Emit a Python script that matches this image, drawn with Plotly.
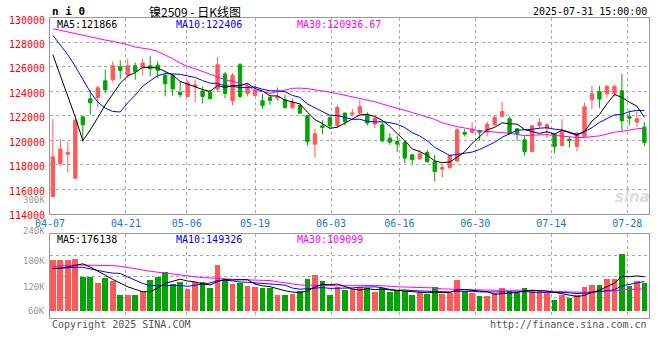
import plotly.graph_objects as go
import pandas as pd

# ---------------- data ----------------
dates_label = ["04-07", "04-21", "05-06", "05-19", "06-03", "06-16", "06-30", "07-14", "07-28"]
dates_label_idx = [0, 10, 18, 27, 37, 46, 56, 66, 76]

open_ = [115397, 118099, 118863, 116898, 121919, 123393, 123502, 124867, 124949, 126013,
         125358, 126095, 125958, 126095, 126149, 125303, 125303, 123911, 123584, 124375,
         124021, 123911, 124184, 125412, 123229, 126177, 123829, 123666, 123229, 123502,
         123448, 123311, 122684, 122847, 122001, 119682, 121183, 121865, 121210, 122219,
         122138, 122219, 122028, 121319, 121264, 120173, 119900, 119818, 118808, 118481,
         118999, 118235, 117635, 117771, 118300, 120637, 120664, 120773, 120664, 121264,
         121947, 121756, 120937, 120036, 119081, 121210, 120991, 120500, 119572, 120091,
         119490, 120309, 123311, 123966, 123802, 123802, 124048, 121919, 121483, 121073]
high = [121728, 120118, 119900, 121700, 121950, 124130, 124457, 125767, 126449, 126531,
        126668, 126367, 126668, 126913, 126449, 125631, 125494, 124812, 124894, 124949,
        124403, 124130, 126804, 125576, 125494, 126313, 124650, 124375, 123802, 123720,
        124321, 123720, 123448, 123011, 122050, 120937, 121646, 121947, 122902, 122274,
        122574, 123311, 122301, 121947, 121483, 120582, 120364, 119954, 118850, 119217,
        119217, 118808, 117990, 118808, 120991, 120910, 121455, 120855, 121537, 122083,
        123120, 121947, 120991, 120309, 121264, 121810, 121401, 120582, 121728, 120309,
        120719, 123093, 124457, 124457, 124539, 124539, 125413, 122438, 122356, 121483]
low = [115300, 117853, 117362, 116843, 119900, 122083, 122684, 123829, 124730, 125003,
       125085, 124949, 125303, 125221, 125085, 123584, 123639, 123502, 123584, 123093,
       123011, 123311, 123911, 123447, 122847, 123447, 123600, 123584, 122574, 122902,
       123229, 122574, 122547, 122138, 119572, 118590, 120500, 120991, 120991, 121210,
       121947, 121947, 121210, 120991, 119818, 119627, 119027, 118126, 118044, 118399,
       118126, 116625, 116953, 117662, 118200, 120309, 120500, 119954, 120309, 121128,
       121865, 120446, 119954, 118754, 119000, 120991, 120173, 118945, 119572, 119409,
       119081, 120309, 122547, 122629, 123502, 123584, 120773, 121210, 121128, 119490]
close = [118644, 119272, 118999, 121646, 121264, 123066, 124293, 124130, 126095, 125713,
         126095, 125631, 126313, 125849, 125713, 124621, 124184, 123720, 124703, 124539,
         123584, 123420, 126177, 123829, 125303, 123584, 124403, 124048, 122847, 123257,
         123584, 122684, 123120, 122219, 119900, 120527, 121046, 121183, 122684, 121537,
         122219, 122738, 121401, 121810, 119954, 119845, 119682, 118535, 118426, 118890,
         118262, 117444, 117771, 118727, 120855, 120500, 120910, 120664, 121319, 121865,
         122356, 120555, 120500, 119081, 121183, 121455, 121264, 119490, 120719, 119982,
         120582, 122738, 123802, 123366, 124403, 124403, 121592, 121810, 121756, 119818]
volume = [256700, 256700, 256700, 261800, 170000, 173400, 142800, 164900, 153000, 78200,
          78200, 78200, 102000, 154700, 170000, 198900, 137700, 147900, 108800, 147900,
          144500, 115600, 231200, 161500, 137700, 141100, 127500, 119000, 115600, 117300,
          81600, 81600, 86700, 102000, 159800, 180200, 149600, 78200, 119000, 103700,
          112200, 119000, 115600, 93500, 115600, 93500, 102000, 98600, 81600, 95200,
          86700, 119000, 85000, 90100, 154700, 98600, 90100, 73100, 73100, 90100,
          113900, 102000, 90100, 113900, 107100, 107100, 90100, 56100, 78200, 62900,
          81600, 119000, 132600, 132600, 163200, 163200, 290700, 124100, 153000, 141100]

# moving-average values before enough history is on the chart
price_ma5_head = [126995, 125292, 123597, 121894]
price_ma10_head = [128578, 127814, 126995, 126040, 125030, 123939, 123120, 122629, 122356]
price_ma30_head = [129124, 128987, 128851, 128714, 128551, 128442, 128305, 128196, 128087, 127978,
                   127814, 127623, 127541, 127432, 127268, 126995, 126668, 126313, 126040, 125849,
                   125631, 125358, 125140, 124949, 124812, 124676, 124484, 124048, 123993]
vol_ma5_head = [215900, 217600, 224400, 232900]
vol_ma10_head = [215900, 219300, 221000, 222700, 222700, 214200, 206000, 199000, 193000]
vol_ma30_head = [224400, 229500, 232900, 234600, 234600, 234600, 232900, 232900, 231200, 227800,
                 222700, 217600, 209100, 202300, 197200, 193800, 190400, 183600, 176800, 171700,
                 170000, 168300, 164900, 163200, 161500, 159800, 158100, 156500, 155500]

ma_labels_price = ["MA5:121866", "MA10:122406", "MA30:120936.67"]
ma_labels_vol = ["MA5:176138", "MA10:149326", "MA30:109099"]
price_ticks = [114000, 116000, 118000, 120000, 122000, 124000, 126000, 128000, 130000]
vol_tick_labels = ["300K", "240K", "180K", "120K", "60K"]


def ma(series, n, head):
    s = pd.Series(series, dtype=float).rolling(n).mean()
    s.iloc[:len(head)] = head
    return s.round(1).tolist()


p_ma5, p_ma10, p_ma30 = ma(close, 5, price_ma5_head), ma(close, 10, price_ma10_head), ma(close, 30, price_ma30_head)
v_ma5, v_ma10, v_ma30 = ma(volume, 5, vol_ma5_head), ma(volume, 10, vol_ma10_head), ma(volume, 30, vol_ma30_head)

# ---------------- style / geometry ----------------
RED = "#FF5959"
GREEN = "#00A600"
BLUE = "#0000FF"
MAG = "#FF00FF"
GRID = "#A8A8A8"
BORDER = "#9A9A9A"
MONO = "DejaVu Sans Mono"
CJK = "Noto Sans CJK SC"

W, H = 660, 360
PL, PR, PT, PB = 50, 649, 18.3, 318       # plot area in window pixels
n = len(close)
bar_px = (PR - PL) / n                   # px per trading day
x0 = -2.85 / bar_px                      # left border in data units
x1 = x0 + (PR - PL) / bar_px
grid_step = (600 / (n - 1)) / bar_px     # date grid spacing used by the source chart
grid_x = [i * grid_step + x0 for i in dates_label_idx]

price_bottom_px, vol_top_px, vol_base_px = 213.7, 234.3, 311
plot_h = PB - PT
price_domain = [(PB - price_bottom_px) / plot_h, 1]
vol_domain = [0, (PB - vol_top_px) / plot_h]
vol_per_px = 5100
vol_range = [-(PB - vol_base_px) * vol_per_px, (vol_base_px - vol_top_px) * vol_per_px]
vol_grid = [vol_range[0] + (vol_range[1] - vol_range[0]) * k / 4 for k in range(5)]

x = list(range(n))
vcolors = [RED if c >= o else GREEN for o, c in zip(open_, close)]

fig = go.Figure()
fig.add_trace(go.Candlestick(
    x=x, open=open_, high=high, low=low, close=close,
    increasing=dict(line=dict(color=RED, width=1), fillcolor=RED),
    decreasing=dict(line=dict(color=GREEN, width=1), fillcolor=GREEN),
    whiskerwidth=0, xaxis="x", yaxis="y", hoverinfo="skip", showlegend=False))
for ys, col in [(p_ma30, MAG), (p_ma10, BLUE), (p_ma5, "#000000")]:
    fig.add_trace(go.Scatter(x=x, y=ys, mode="lines", line=dict(color=col, width=1),
                             xaxis="x", yaxis="y", hoverinfo="skip", showlegend=False))

fig.add_trace(go.Bar(x=x, y=volume, width=0.76, marker=dict(color=vcolors, line=dict(width=0)),
                     xaxis="x2", yaxis="y2", hoverinfo="skip", showlegend=False))
for ys, col in [(v_ma30, MAG), (v_ma10, BLUE), (v_ma5, "#000000")]:
    fig.add_trace(go.Scatter(x=x, y=ys, mode="lines", line=dict(color=col, width=1),
                             xaxis="x2", yaxis="y2", hoverinfo="skip", showlegend=False))

common_x = dict(range=[x0, x1], showgrid=True, gridcolor=GRID, griddash="dot", gridwidth=1,
                showline=True, linecolor=BORDER, linewidth=1, mirror=True, zeroline=False,
                tickvals=grid_x, ticks="", fixedrange=True, automargin=False)
common_y = dict(showgrid=True, gridcolor=GRID, griddash="dot", gridwidth=1, showline=True,
                linecolor=BORDER, linewidth=1, mirror=True, zeroline=False, ticks="",
                fixedrange=True, automargin=False)

fig.update_layout(
    width=W, height=H,
    margin=dict(l=PL, r=W - PR, t=PT, b=H - PB, autoexpand=False),
    paper_bgcolor="white", plot_bgcolor="white",
    font=dict(family=MONO, size=10, color="#000000"),
    boxgap=0.36,
    bargap=0,
    xaxis=dict(**common_x, anchor="y", ticktext=dates_label, showticklabels=True,
               tickfont=dict(family=MONO, size=10, color="#1478D4"),
               rangeslider=dict(visible=False)),
    yaxis=dict(**common_y, domain=price_domain, range=[price_ticks[0], price_ticks[-1]],
               tickvals=price_ticks, ticktext=[str(v) for v in price_ticks],
               tickfont=dict(family=MONO, size=10, color="#FF0000"),
               ticklabelshift=2, ticklabelstandoff=2),
    xaxis2=dict(**common_x, anchor="y2", matches="x", showticklabels=False),
    yaxis2=dict(**common_y, domain=vol_domain, range=vol_range, tickvals=vol_grid,
                showticklabels=False),
)


def px_x(v):
    return (v - PL) / (PR - PL)


def px_y(v):
    return (PB - v) / plot_h


def ann(text, xp, yp, color="#000000", size=10, xanchor="left", family=MONO):
    fig.add_annotation(text=text, x=px_x(xp), y=px_y(yp), xref="paper", yref="paper",
                       xanchor=xanchor, yanchor="middle", showarrow=False,
                       font=dict(family=family, size=size, color=color))


# header texts
ann("<b>n i 0</b>", 50, 11.5, size=11)
ann("镍2509 - 日K线图", 195, 11.5, size=12, xanchor="center", family=CJK)
ann("2025-07-31 15:00:00", 649, 12, xanchor="right")

# MA legends
ma_cols = ["#000000", BLUE, MAG]
ma_xs = [55, 174, 295]
for t, c, xp in zip(ma_labels_price, ma_cols, ma_xs):
    ann(t, xp, 24.5, color=c)
for t, c, xp in zip(ma_labels_vol, ma_cols, ma_xs):
    ann(t, xp, 239.5, color=c)

# volume axis labels (placed as in the source picture)
for t, yp in zip(vol_tick_labels, [200.5, 230.7, 261, 287.3, 311]):
    ann(t, 47, yp, color="#9A9A9A", size=9, xanchor="right")

# footer
ann("Copyright 2025 SINA.COM", 50, 324, color="#555555")
ann("http://finance.sina.com.cn", 649, 324, color="#555555", xanchor="right")

# watermark
ann("<b><i>sina</i></b>", 632, 197, color="#DDDDDD", size=15, xanchor="center", family="DejaVu Sans")

# remove the browser's default page margin so the figure sits at the window origin
fig.write_html("out.html", config={"displayModeBar": False},
               post_script="document.body.style.margin='0px';")
